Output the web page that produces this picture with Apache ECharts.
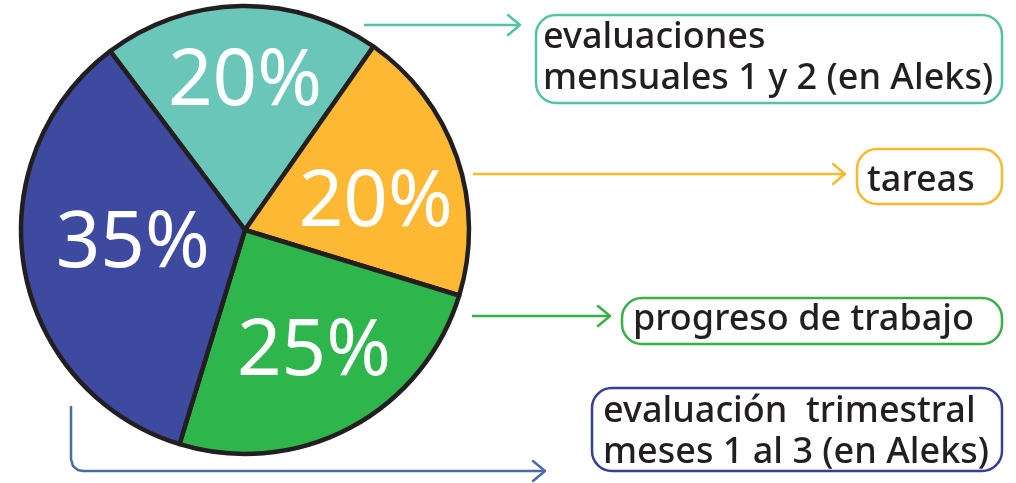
<!DOCTYPE html>
<html>
<head>
<meta charset="utf-8">
<script src="https://cdn.jsdelivr.net/npm/echarts@6/dist/echarts.min.js"></script>
<style>
  html, body { margin: 0; padding: 0; background: #fff; }
  #main { width: 1016px; height: 483px; }
</style>
</head>
<body>
<div id="main"></div>
<script>
  var categories = ['evaluaciones\nmensuales 1 y 2 (en Aleks)', 'tareas', 'progreso de trabajo', 'evaluación  trimestral\nmeses 1 al 3 (en Aleks)'];
  var values = [20, 20, 25, 35];

  var sliceColors = ['#6ac6b8', '#fdb934', '#2eb54b', '#3e4a9f'];
  var lineColors = ['#52c4a4', '#fbb829', '#39ae49', '#4a6daa'];
  var boxColors = ['#52c4a4', '#fbb829', '#39ae49', '#353f95'];

  // nudges for the big percent labels (from 'inside' position)
  var labelNudge = [[2, -32], [22, 11], [15, 21], [1, -5]];

  // callout boxes: [x, y, w, h, textX, textY]
  var boxes = [
    [536, 15, 466, 88, 543, 58],
    [857, 149, 145, 55, 867, 181],
    [622, 298, 380, 46, 633, 320],
    [592, 388, 410, 83, 603, 432]
  ];
  // connector lines (with arrow tip at the last point)
  var connectors = [
    [[364, 25], [520, 25]],
    [[473, 174], [845, 174]],
    [[472, 316], [610, 316]],
    [[71, 406], [71, 459], [73, 466], [78, 470], [83, 471], [545, 471]]
  ];

  var myChart = echarts.init(document.getElementById('main'));

  var graphics = [];
  for (var i = 0; i < categories.length; i++) {
    var b = boxes[i];
    var pts = connectors[i];
    var tip = pts[pts.length - 1];
    graphics.push({
      type: 'polyline',
      shape: { points: pts },
      style: { stroke: lineColors[i], lineWidth: 2.5, fill: null }
    });
    graphics.push({
      type: 'polyline',
      shape: { points: [[tip[0] - 12, tip[1] - 10], tip, [tip[0] - 12, tip[1] + 10]] },
      style: { stroke: lineColors[i], lineWidth: 2.5, fill: null, lineCap: 'round', lineJoin: 'round' }
    });
    graphics.push({
      type: 'rect',
      shape: { x: b[0], y: b[1], width: b[2], height: b[3], r: 20 },
      style: { stroke: boxColors[i], lineWidth: 2.5, fill: '#fff' }
    });
    graphics.push({
      type: 'text',
      x: b[4],
      y: b[5],
      style: {
        text: categories[i],
        fill: '#231f20',
        font: '500 36px "Noto Sans"',
        lineHeight: 41,
        align: 'left',
        verticalAlign: 'middle'
      }
    });
  }

  var option = {
    animation: false,
    series: [
      {
        type: 'pie',
        center: [245, 230],
        radius: 224,
        startAngle: 127,
        clockwise: true,
        silent: true,
        data: values.map(function (v, i) {
          return { value: v, name: categories[i], itemStyle: { color: sliceColors[i] } };
        }),
        itemStyle: {
          borderColor: '#231f20',
          borderWidth: 4.5
        },
        label: {
          position: 'inside',
          formatter: '{c}%',
          color: '#fff',
          fontSize: 78,
          fontFamily: '"Noto Sans"',
          fontWeight: 'normal'
        },
        labelLayout: function (params) {
          var n = labelNudge[params.dataIndex];
          return { dx: n[0], dy: n[1] };
        },
        labelLine: { show: false }
      }
    ],
    graphic: graphics
  };

  myChart.setOption(option);
</script>
</body>
</html>
